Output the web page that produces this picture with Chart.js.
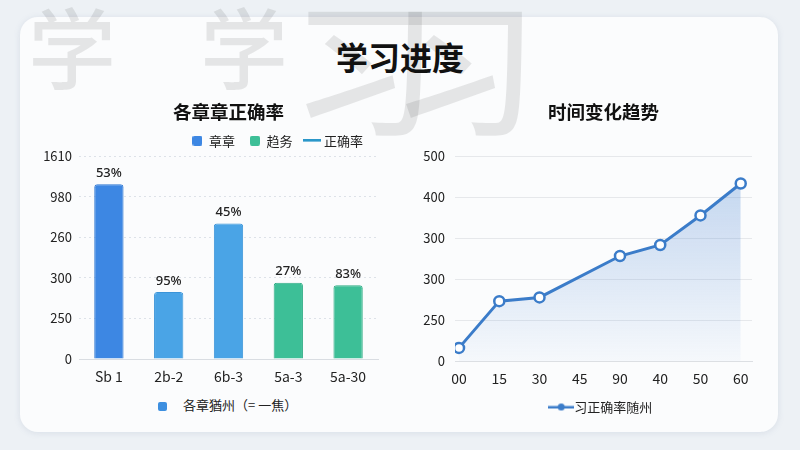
<!DOCTYPE html>
<html>
<head>
<meta charset="utf-8">
<script src="https://cdn.jsdelivr.net/npm/chart.js@4.4.1/dist/chart.umd.min.js"></script>
<style>
body{margin:0;width:800px;height:450px;background:#edf1f5;position:relative;overflow:hidden;font-family:'Noto Sans CJK SC','Noto Sans',sans-serif;}
.tarjeta{position:absolute;left:20px;top:17px;width:758px;height:415px;background:#fbfcfd;border-radius:18px;box-shadow:0 1px 6px rgba(120,140,170,0.18);}
.marca{position:absolute;color:rgba(0,0,0,0.09);font-weight:500;line-height:1;}
#titulo{position:absolute;left:0;width:800px;top:40px;text-align:center;font-size:32px;font-weight:700;color:#111;line-height:1;}
#graficaCapitulos{position:absolute;left:30px;top:95px;}
#graficaTiempo{position:absolute;left:405px;top:95px;}
#leyendaCapitulos{position:absolute;left:158px;top:396px;font-size:13px;color:#222;line-height:18px;}
#leyendaCapitulos .cuadro{display:inline-block;width:9px;height:9px;background:#3d8fe0;border-radius:2px;margin-right:16px;vertical-align:-1px;}
</style>
</head>
<body>
<div class="tarjeta"></div>
<div class="marca" style="left:28px;top:0px;font-size:88px">学</div>
<div class="marca" style="left:200px;top:0px;font-size:88px">学</div>
<div class="marca" style="left:292px;top:-10px;font-size:145px">习</div>
<div class="marca" style="left:392px;top:-10px;font-size:145px">习</div>
<div id="titulo">学习进度</div>
<canvas id="graficaCapitulos" width="390" height="294"></canvas>
<canvas id="graficaTiempo" width="372" height="326"></canvas>
<div id="leyendaCapitulos"><span class="cuadro"></span>各章猶州（= 一焦）</div>
<script>
// grafica izquierda: barras por capitulo (los ticks del eje son posiciones, las etiquetas se leen de ticksIzq)
var etiquetasCapitulos = ['Sb 1', '2b-2', '6b-3', '5a-3', '5a-30'];
var valoresCapitulos = [4.31, 1.65, 3.34, 1.88, 1.82];
var porcentajesCapitulos = ['53%', '95%', '45%', '27%', '83%'];
var ticksIzq = ['0', '250', '300', '260', '980', '1610'];
var leyendaIzq = ['章章', '趋务', '正确率'];

// grafica derecha: linea en el tiempo
var etiquetasTiempo = ['00', '15', '30', '45', '90', '40', '50', '60'];
var valoresTiempo = [0.32, 1.46, 1.55, null, 2.56, 2.83, 3.55, 4.33];
var ticksDer = ['0', '250', '300', '300', '400', '500'];

var coloresCapitulos = ['#3d87e3', '#4aa4e6', '#4aa4e6', '#3dbf97', '#3dbf97'];
var bordesCapitulos = ['#2f77d2', '#3b94d8', '#3b94d8', '#30ac85', '#30ac85'];
var fuente = "'Noto Sans CJK SC', 'Noto Sans', sans-serif";

function crearIcono(tipo, color){
	var c = document.createElement('canvas');
	var g = c.getContext('2d');
	if(tipo == 'cuadro'){
		c.width = 10; c.height = 10;
		g.fillStyle = color;
		g.beginPath(); g.roundRect(0, 0, 10, 10, 2); g.fill();
	}else if(tipo == 'linea'){
		c.width = 18; c.height = 3;
		g.fillStyle = color;
		g.fillRect(0, 0, 18, 2.5);
	}else{
		c.width = 26; c.height = 9;
		g.fillStyle = color;
		g.fillRect(0, 3.5, 26, 2.5);
		g.beginPath(); g.arc(13, 4.5, 3.5, 0, Math.PI*2); g.fill();
	}
	return c;
}

var pluginPorcentajes = {
	id: 'porcentajes',
	afterDatasetsDraw: function(chart){
		var ctx = chart.ctx;
		ctx.save();
		ctx.font = "500 13px 'Noto Sans', sans-serif";
		ctx.fillStyle = '#222';
		ctx.textAlign = 'center';
		ctx.textBaseline = 'middle';
		chart.getDatasetMeta(0).data.forEach(function(barra, i){
			ctx.fillText(porcentajesCapitulos[i], barra.x, barra.y - 11);
		});
		ctx.restore();
	}
};

function crearGraficaCapitulos(){
	var iconos = [crearIcono('cuadro', '#3d87e3'), crearIcono('cuadro', '#3dbf97'), crearIcono('linea', '#2a97c9')];
	new Chart(document.getElementById('graficaCapitulos'), {
		type: 'bar',
		data: {
			labels: etiquetasCapitulos,
			datasets: [{
				label: leyendaIzq[0],
				data: valoresCapitulos,
				backgroundColor: coloresCapitulos,
				borderColor: bordesCapitulos,
				borderWidth: 1,
				borderRadius: 3,
				borderSkipped: 'bottom',
				barPercentage: 0.49,
				categoryPercentage: 1
			}]
		},
		options: {
			responsive: false,
			animation: false,
			layout: { padding: { left: 9, right: 42 } },
			plugins: {
				title: {
					display: true,
					fullSize: false,
					text: '各章章正确率',
					color: '#111',
					font: { size: 18.5, weight: 'bold', family: fuente },
					padding: { top: 6, bottom: -4 }
				},
				legend: {
					align: 'end',
					fullSize: false,
					maxHeight: 37,
					labels: {
						usePointStyle: true,
						boxWidth: 10,
						boxHeight: 10,
						padding: 15,
						color: '#222',
						font: { size: 13, family: fuente },
						generateLabels: function(){
							return leyendaIzq.map(function(t, i){
								return { text: t, pointStyle: iconos[i], fillStyle: 'transparent', strokeStyle: 'transparent', lineWidth: 0, hidden: false, fontColor: '#222' };
							});
						}
					}
				},
				tooltip: { enabled: false }
			},
			scales: {
				x: {
					grid: { display: false, drawTicks: false },
					border: { display: true, color: '#d9dde2' },
					ticks: { color: '#222', font: { size: 14, family: fuente }, padding: 9, maxRotation: 0 },
					afterFit: function(s){ s.height = 30; }
				},
				y: {
					min: 0,
					max: 5,
					grid: { color: '#dde2e8', drawTicks: false },
					border: { display: false, dash: [2, 3] },
					ticks: {
						stepSize: 1,
						padding: 7,
						color: '#222',
						font: { size: 13, family: fuente },
						callback: function(v){ return ticksIzq[v]; }
					},
					afterFit: function(s){ s.width = 40; }
				}
			}
		},
		plugins: [pluginPorcentajes]
	});
}

function crearGraficaTiempo(){
	var puntos = valoresTiempo.map(function(v, i){ return { x: i, y: v }; });
	new Chart(document.getElementById('graficaTiempo'), {
		type: 'line',
		data: {
			datasets: [{
				label: '习正确率随州',
				data: puntos,
				borderColor: '#3b7cc9',
				borderWidth: 3,
				pointRadius: 5,
				pointBorderWidth: 2.5,
				pointBackgroundColor: '#ffffff',
				pointBorderColor: '#3b7cc9',
				spanGaps: true,
				tension: 0,
				fill: 'origin',
				backgroundColor: function(ctx){
					var area = ctx.chart.chartArea;
					if(!area) return 'rgba(70,130,210,0.15)';
					var grad = ctx.chart.ctx.createLinearGradient(0, area.top, 0, area.bottom);
					grad.addColorStop(0, 'rgba(70,130,210,0.34)');
					grad.addColorStop(1, 'rgba(70,130,210,0.03)');
					return grad;
				}
			}]
		},
		options: {
			responsive: false,
			animation: false,
			layout: { padding: { left: 10, right: 25 } },
			plugins: {
				title: {
					display: true,
					fullSize: false,
					text: '时间变化趋势',
					color: '#111',
					font: { size: 18.5, weight: 'bold', family: fuente },
					padding: { top: 6, bottom: 32.8 }
				},
				legend: {
					position: 'bottom',
					fullSize: false,
					maxHeight: 30,
					labels: {
						usePointStyle: true,
						pointStyle: crearIcono('punto', '#3b7cc9'),
						boxWidth: 26,
						padding: 9.5,
						color: '#222',
						font: { size: 13, family: fuente }
					}
				},
				tooltip: { enabled: false }
			},
			scales: {
				x: {
					type: 'linear',
					min: -0.1,
					max: 7.28,
					grid: { display: false, drawTicks: false },
					border: { display: true, color: '#dcdfe3' },
					ticks: {
						stepSize: 1,
						includeBounds: false,
						autoSkip: false,
						maxRotation: 0,
						padding: 9,
						color: '#222',
						font: { size: 14, family: fuente },
						callback: function(v){ return Number.isInteger(v) ? etiquetasTiempo[v] : null; }
					},
					afterFit: function(s){ s.height = 30; }
				},
				y: {
					min: 0,
					max: 5,
					grid: { color: '#e6e8eb', drawTicks: false },
					border: { display: false },
					ticks: {
						stepSize: 1,
						padding: 10,
						color: '#222',
						font: { size: 13, family: fuente },
						callback: function(v){ return ticksDer[v]; }
					},
					afterFit: function(s){ s.width = 40; }
				}
			}
		}
	});
}

crearGraficaCapitulos();
crearGraficaTiempo();
</script>
</body>
</html>
